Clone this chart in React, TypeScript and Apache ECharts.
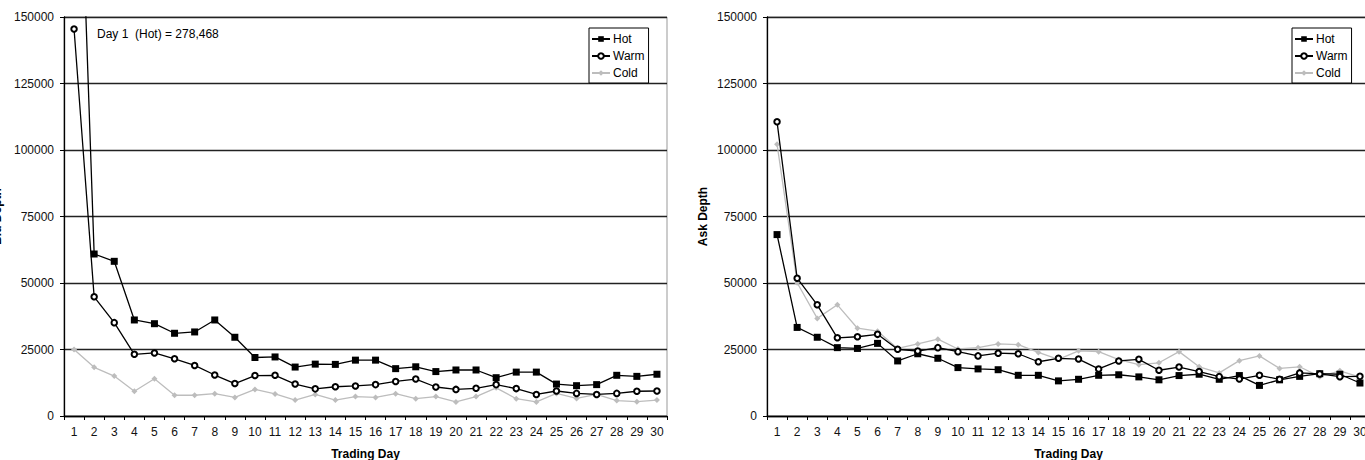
import React, { useEffect, useRef } from "react";
import * as echarts from "echarts";

const days = ["1","2","3","4","5","6","7","8","9","10","11","12","13","14","15","16","17","18","19","20","21","22","23","24","25","26","27","28","29","30"];

const bidHot = [278468,60900,58150,36100,34700,31100,31600,36100,29600,22000,22200,18400,19500,19400,21000,21000,17800,18500,16700,17300,17300,14400,16500,16500,12000,11400,11800,15300,14900,15700];
const bidWarm = [145500,44800,35100,23200,23700,21500,19000,15400,12200,15200,15300,12000,10200,11000,11300,11800,13000,13900,10900,10000,10400,11800,10300,8100,9400,8500,8100,8500,9300,9400];
const bidCold = [25000,18300,15000,9300,14000,7800,7800,8400,7000,10000,8300,6000,8100,6000,7300,7000,8400,6500,7300,5300,7300,10600,6500,5300,8500,6600,8100,5800,5400,6000];

const askHot = [68200,33300,29600,25700,25400,27300,20700,23400,21700,18200,17700,17400,15300,15300,13200,13800,15300,15500,14700,13600,15200,15700,13800,15200,11500,13600,14900,15900,15700,12400];
const askWarm = [110600,51800,41800,29400,29800,30700,25100,24400,25700,24200,22600,23600,23400,20400,21700,21400,17700,20700,21300,17200,18400,16700,14800,13900,15300,13800,16200,15800,14800,14900];
const askCold = [102200,50100,36700,41800,33000,31900,25400,27100,28900,25200,25700,27100,26800,23900,21300,24500,24200,21200,19300,20000,24200,18500,16200,20800,22600,17900,18500,14800,17000,14600];

const yTicks = { min: 0, max: 150000, interval: 25000 };
const seriesNames = ["Hot", "Warm", "Cold"];
const note = "Day 1  (Hot) = 278,468";

const FONT = "'Liberation Sans', Arial, sans-serif";

export default function App() {
  const ref = useRef<HTMLDivElement>(null);
  useEffect(() => {
    if (!ref.current) return;
    const chart = echarts.init(ref.current, null, { renderer: "svg" });
    const gridLefts = [64, 767];
    const yNames = ["Bid Depth", "Ask Depth"];
    const yNameGaps = [61, 58];
    const data = [
      [bidHot, bidWarm, bidCold],
      [askHot, askWarm, askCold],
    ];
    const styles = [
      { color: "#000", symbol: "rect", symbolSize: 7, z: 3 },
      { color: "#000", symbol: "emptyCircle", symbolSize: 5.5, z: 3 },
      { color: "#bdbdbd", symbol: "diamond", symbolSize: 6, z: 2 },
    ];
    const series: any[] = [];
    [0, 1].forEach((g) => {
      seriesNames.forEach((n, i) => {
        const s = styles[i];
        series.push({
          type: "line",
          name: n,
          xAxisIndex: g,
          yAxisIndex: g,
          data: data[g][i],
          symbol: s.symbol,
          symbolSize: s.symbolSize,
          showAllSymbol: true,
          clip: true,
          z: s.z,
          color: s.color,
          lineStyle: { color: s.color, width: 1.3 },
          itemStyle: { color: s.color, borderWidth: 1 },
        });
      });
    });
    const option: any = {
      animation: false,
      textStyle: { fontFamily: FONT },
      grid: gridLefts.map((l) => ({
        left: l,
        top: 17,
        width: 603,
        height: 399,
        containLabel: false,
        outerBoundsMode: "none",
        show: true,
        borderColor: "#999",
        borderWidth: 1,
        backgroundColor: "transparent",
      })),
      xAxis: gridLefts.map((_, g) => ({
        type: "category",
        gridIndex: g,
        data: days,
        boundaryGap: true,
        name: "Trading Day",
        nameLocation: "middle",
        nameGap: 32,
        nameTextStyle: { fontWeight: "bold", fontSize: 12, color: "#000", fontFamily: FONT },
        axisLine: { lineStyle: { color: "#000", width: 1.3 } },
        axisTick: { show: true, length: 4, alignWithLabel: false, lineStyle: { color: "#000" } },
        axisLabel: { fontSize: 12, color: "#111", margin: 10, interval: 0, fontFamily: FONT },
        splitLine: { show: false },
      })),
      yAxis: gridLefts.map((_, g) => ({
        type: "value",
        gridIndex: g,
        min: yTicks.min,
        max: yTicks.max,
        interval: yTicks.interval,
        name: yNames[g],
        nameLocation: "middle",
        nameGap: yNameGaps[g],
        nameRotate: 90,
        nameTextStyle: { fontWeight: "bold", fontSize: 12, color: "#000", fontFamily: FONT },
        axisLine: { show: true, lineStyle: { color: "#000", width: 1.3 } },
        axisTick: { show: true, length: 4, lineStyle: { color: "#000" } },
        axisLabel: {
          fontSize: 12,
          color: "#111",
          margin: 10,
          fontFamily: FONT,
          formatter: (v: number) => String(v),
        },
        splitLine: { show: true, lineStyle: { color: "#222", width: 1.3 } },
      })),
      legend: [589, 1292].map((l) => ({
        data: seriesNames,
        orient: "vertical",
        left: l,
        top: 28,
        padding: [4, 4, 3, 2],
        itemGap: 3,
        itemWidth: 18,
        itemHeight: 7,
        borderColor: "#000",
        borderWidth: 1,
        backgroundColor: "#fff",
        selectedMode: false,
        textStyle: { fontSize: 12, color: "#000", padding: [0, 0, 0, -2], lineHeight: 14, fontFamily: FONT },
      })),
      graphic: [
        {
          type: "text",
          left: 97,
          top: 28,
          style: { text: note, fontSize: 12, fill: "#000", fontFamily: FONT },
        },
      ],
      series,
    };
    chart.setOption(option);
    return () => chart.dispose();
  }, []);
  return (
    <div
      ref={ref}
      style={{ position: "fixed", left: 0, top: 0, width: 1365, height: 460, background: "#fff" }}
    />
  );
}
